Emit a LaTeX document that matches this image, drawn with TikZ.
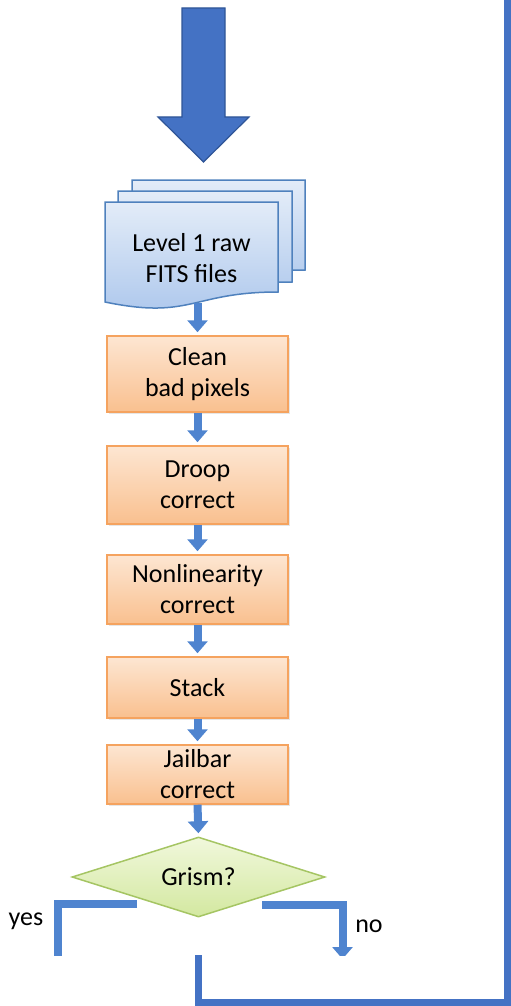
\documentclass[tikz,border=0pt]{standalone}
\usepackage{fontspec}
\setmainfont{Carlito}
\usetikzlibrary{shapes.geometric,arrows.meta,shadows}

\definecolor{bigblue}{HTML}{4472C4}
\definecolor{bigedge}{HTML}{2F5597}
\definecolor{linkblue}{HTML}{4F84CF}
\definecolor{boxedge}{HTML}{F5A35F}
\definecolor{boxtop}{HTML}{FDE6D2}
\definecolor{boxbot}{HTML}{F9C08F}
\definecolor{docedge}{HTML}{4F81BD}
\definecolor{doctop}{HTML}{E3ECF8}
\definecolor{docbot}{HTML}{ABC6EC}
\definecolor{decedge}{HTML}{A5C563}
\definecolor{dectop}{HTML}{F1F8DC}
\definecolor{decbot}{HTML}{D3E8A0}

% one sheet of the stacked-document symbol: left, top, right, bottom
\newcommand{\docsheet}[4]{%
  \path[docsheet] (#1,#2) -- (#3,#2) -- (#3,{#4-10})
    .. controls ({(#1+#3)/2},{#4-10}) and ({(#1+#3)/2},{#4+18}) .. (#1,#4) -- cycle;}

\begin{document}
\begin{tikzpicture}[x=1pt,y=-1pt,
  lbl/.style={font=\fontsize{26}{31}\selectfont},
  stepbox/.style={lbl, draw=boxedge, line width=1.5pt, top color=boxtop, bottom color=boxbot,
    minimum width=181pt, align=center, inner sep=0pt,
    drop shadow={opacity=0.2, shadow xshift=1.5pt, shadow yshift=-2pt}},
  docsheet/.style={draw=docedge, line width=1.5pt, top color=doctop, bottom color=docbot},
  decision/.style={lbl, diamond, draw=decedge, line width=1.5pt, top color=dectop, bottom color=decbot,
    minimum width=253pt, minimum height=80pt, aspect=3.16, inner sep=0pt},
  flow/.style={line width=8pt, draw=linkblue, -{Triangle[width=20pt,length=12pt]}, shorten >=3pt},
  branch/.style={line width=8pt, draw=linkblue, line join=miter},
  loopline/.style={line width=7pt, draw=bigblue, line join=miter}]

\useasboundingbox (0,0) rectangle (511,1006);

% incoming block arrow
\path[fill=bigblue, draw=bigedge, line width=1.2pt]
  (182,8) -- (225,8) -- (225,117) -- (249,117) -- (203.5,162) -- (158,117) -- (182,117) -- cycle;

% stack of input files
\docsheet{132}{180}{305}{280}
\docsheet{118}{191}{292}{292}
\docsheet{105}{202}{278}{302}
\node[lbl, align=center] (doc) at (191.5,258) {Level 1 raw\\FITS files};
\coordinate (docout) at (197.5,303);

% processing steps
\node[stepbox, minimum height=76pt] (clean)   at (197.5,374)   {Clean\\bad pixels};
\node[stepbox, minimum height=78pt] (droop)   at (197.5,485)   {Droop\\correct};
\node[stepbox, minimum height=69pt] (nonlin)  at (197.5,589.5) {Nonlinearity\\correct};
\node[stepbox, minimum height=61pt] (stack)   at (197.5,687.5) {Stack};
\node[stepbox, minimum height=59pt] (jailbar) at (197.5,774.5) {Jailbar\\correct};
\node[decision] (grism) at (198.5,877) {Grism?};

\draw[flow] (docout) -- (clean.north);
\draw[flow] (clean.south) -- (droop.north);
\draw[flow] (droop.south) -- (nonlin.north);
\draw[flow] (nonlin.south) -- (stack.north);
\draw[flow] (stack.south) -- (jailbar.north);
\draw[flow] (jailbar.south) -- (grism.north);

% branches out of the decision
\coordinate (yesA) at (137,904);
\coordinate (yesB) at (57.5,962);
\coordinate (noA)  at (262,905);
\coordinate (noB)  at (342.5,959);
\begin{scope}
  \clip (0,0) rectangle (511,955);
  \draw[branch] (yesA) -| (yesB);
  \draw[branch, -{Triangle[width=20pt,length=12pt]}] (noA) -| (noB);
\end{scope}
\node[lbl] (yes) at (26,921) {yes};
\node[lbl] (no)  at (369,926) {no};

% return loop
\coordinate (loopA) at (198,955);
\coordinate (loopC) at (507.5,0);
\draw[loopline] (loopA) |- (507.5,1002) -- (loopC);
\end{tikzpicture}
\end{document}
